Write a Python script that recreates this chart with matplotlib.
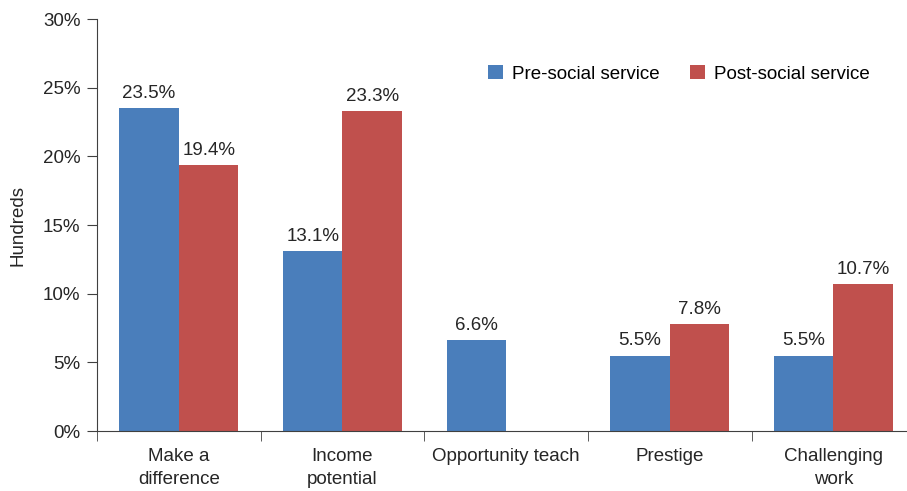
import matplotlib.pyplot as plt
import numpy as np

# chart data
categories = ['Make a\ndifference', 'Income\npotential', 'Opportunity teach', 'Prestige', 'Challenging\nwork']
pre_service = [23.5, 13.1, 6.6, 5.5, 5.5]
post_service = [19.4, 23.3, None, 7.8, 10.7]
series_names = ['Pre-social service', 'Post-social service']

plt.rcParams['font.family'] = ['Liberation Sans', 'DejaVu Sans']

fig = plt.figure(figsize=(9.07, 4.91), dpi=100)
ax = fig.add_axes([0.107, 0.122, 0.893, 0.839])

x = np.arange(len(categories))
w = 0.364
blue = '#4a7ebb'
red = '#c0504d'
fs = 13.5

pre_bars = ax.bar(x - w / 2, pre_service, w, color=blue, label=series_names[0])
post_vals = [v if v is not None else 0 for v in post_service]
post_bars = ax.bar(x + w / 2, post_vals, w, color=red, label=series_names[1])

# value labels
for rect, v in zip(pre_bars, pre_service):
    ax.text(rect.get_x() + rect.get_width() / 2, v + 0.45, f'{v}%',
            ha='center', va='bottom', fontsize=fs, color='#262626')
for rect, v in zip(post_bars, post_service):
    if v is None:
        continue
    ax.text(rect.get_x() + rect.get_width() / 2, v + 0.45, f'{v}%',
            ha='center', va='bottom', fontsize=fs, color='#262626')

ax.set_ylim(0, 30)
ax.set_yticks(np.arange(0, 31, 5))
ax.set_yticklabels([f'{t}%' for t in range(0, 31, 5)], fontsize=fs, color='#262626')
ax.set_xlim(-0.5, 4.45)
ax.set_xticks(x)
ax.set_xticklabels(categories, fontsize=fs, color='#262626', linespacing=1.45)
ax.tick_params(axis='x', length=0, pad=12)
ax.set_xticks(np.arange(-0.5, 4.5, 1), minor=True)
ax.tick_params(axis='x', which='minor', length=7, color='#404040')
ax.tick_params(axis='y', length=7, color='#404040', pad=5)

for s in ['top', 'right']:
    ax.spines[s].set_visible(False)
for s in ['left', 'bottom']:
    ax.spines[s].set_color('#404040')

ax.set_ylabel('Hundreds', fontsize=fs, color='#262626', labelpad=12)

ax.legend(loc='upper right', bbox_to_anchor=(0.975, 0.93), ncol=2, frameon=False,
          fontsize=fs, handlelength=0.8, handleheight=0.8, columnspacing=1.6,
          handletextpad=0.5)

fig.savefig('out.png', dpi=100)
